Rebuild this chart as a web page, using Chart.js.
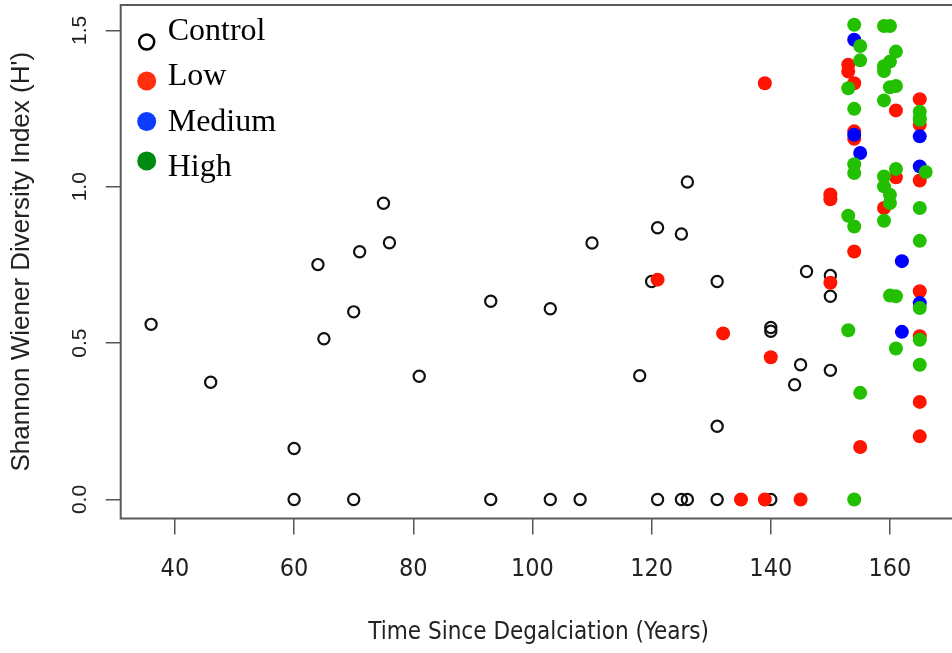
<!DOCTYPE html>
<html><head><meta charset="utf-8">
<script src="https://cdn.jsdelivr.net/npm/chart.js@4.4.0/dist/chart.umd.min.js"></script>
<style>html,body{margin:0;padding:0;background:#fff;overflow:hidden;width:952px;height:653px}canvas{display:block}</style>
</head><body>
<canvas id="c" width="958" height="653"></canvas>
<script>
// ---- data ----
const seriesNames = ['Control', 'Low', 'Medium', 'High'];
const xTicks = [40, 60, 80, 100, 120, 140, 160];
const yTicks = [0, 0.5, 1.0, 1.5];
const xTitle = 'Time Since Degalciation (Years)';
const yTitle = "Shannon Wiener Diversity Index (H')";

const controlX = [36, 46, 60, 60, 64, 65, 70, 70, 71, 75, 76, 81, 93, 93, 103, 103, 108, 110, 118, 120, 121, 121, 125, 125, 126, 126, 131, 131, 131, 140, 140, 140, 144, 145, 146, 150, 150, 150];
const controlY = [0.56, 0.375, 0.163, 0, 0.751, 0.514, 0.6, 0, 0.792, 0.947, 0.821, 0.394, 0.634, 0, 0.61, 0, 0, 0.82, 0.396, 0.697, 0.869, 0, 0.849, 0, 1.015, 0, 0.697, 0.234, 0, 0.55, 0.538, 0, 0.367, 0.431, 0.729, 0.716, 0.65, 0.413];

const lowX = [121, 132, 135, 139, 139, 140, 145, 150, 150, 150, 153, 153, 154, 154, 154, 154, 155, 159, 161, 161, 165, 165, 165, 165, 165, 165, 165];
const lowY = [0.703, 0.531, 0, 1.331, 0, 0.455, 0, 0.975, 0.96, 0.693, 1.39, 1.368, 1.331, 1.177, 1.153, 0.793, 0.168, 0.932, 1.244, 1.03, 1.28, 1.198, 1.02, 0.666, 0.522, 0.312, 0.202];

const mediumX = [154, 154, 155, 162, 162, 165, 165, 165];
const mediumY = [1.47, 1.166, 1.108, 0.762, 0.536, 1.161, 1.065, 0.628];

const highX = [153, 153, 153, 154, 154, 154, 154, 154, 154, 155, 155, 155, 159, 160, 161, 160, 159, 159, 160, 161, 159, 159, 159, 160, 160, 159, 161, 160, 161, 161, 165, 165, 165, 165, 165, 165, 165, 165, 166];
const highY = [1.315, 0.907, 0.541, 1.518, 1.249, 1.072, 1.044, 0.873, 0, 1.45, 1.404, 0.341, 1.514, 1.514, 1.432, 1.4, 1.385, 1.37, 1.318, 1.322, 1.276, 1.033, 1.001, 0.974, 0.948, 0.891, 1.057, 0.652, 0.65, 0.483, 1.24, 1.22, 1.214, 0.932, 0.827, 0.612, 0.511, 0.431, 1.047];

// ---- build ----
const pts = (xs, ys) => xs.map((x, i) => ({x: x, y: ys[i]}));
const narrow = "'Liberation Sans Narrow', 'DejaVu Sans Condensed', 'Liberation Sans', Arial, sans-serif";
const sans = "'Liberation Sans', Arial, sans-serif";

const legendColors = {Control: null, Low: '#ff2e0c', Medium: '#0d3cff', High: '#008a10'};

const boxPlugin = {
  id: 'box',
  afterDraw(chart) {
    const a = chart.chartArea, ctx = chart.ctx;
    ctx.save();
    ctx.strokeStyle = '#5a5a5a';
    ctx.lineWidth = 2;
    ctx.strokeRect(a.left, a.top, a.right - a.left, a.bottom - a.top);
    ctx.restore();
  }
};

const legendPlugin = {
  id: 'innerLegend',
  afterDraw(chart) {
    const a = chart.chartArea, ctx = chart.ctx;
    ctx.save();
    ctx.font = "32px 'Liberation Serif', 'DejaVu Serif', serif";
    ctx.textBaseline = 'alphabetic';
    ctx.textAlign = 'left';
    const mx = a.left + 26, tx = a.left + 47;
    const baselines = [40, 85, 131, 176];
    const markerY = [42, 81, 121.5, 161];
    seriesNames.forEach((name, i) => {
      ctx.beginPath();
      if (name === 'Control') {
        ctx.arc(mx, markerY[i], 7.5, 0, Math.PI * 2);
        ctx.strokeStyle = '#000';
        ctx.lineWidth = 2.5;
        ctx.stroke();
      } else {
        ctx.arc(mx, markerY[i], 9.5, 0, Math.PI * 2);
        ctx.fillStyle = legendColors[name];
        ctx.fill();
      }
      ctx.fillStyle = '#000';
      ctx.fillText(name, tx, baselines[i]);
    });
    ctx.restore();
  }
};

new Chart(document.getElementById('c'), {
  type: 'scatter',
  data: {
    datasets: [
      {label: 'Control', data: pts(controlX, controlY), order: 4, pointRadius: 5.6, pointBorderWidth: 2.2, pointBackgroundColor: 'rgba(255,255,255,0)', pointBorderColor: '#111'},
      {label: 'Low', data: pts(lowX, lowY), order: 3, pointRadius: 7, pointBorderWidth: 0, pointBackgroundColor: '#ff1400', pointBorderColor: '#ff1400'},
      {label: 'Medium', data: pts(mediumX, mediumY), order: 2, pointRadius: 7, pointBorderWidth: 0, pointBackgroundColor: '#0000ff', pointBorderColor: '#0000ff'},
      {label: 'High', data: pts(highX, highY), order: 1, pointRadius: 7, pointBorderWidth: 0, pointBackgroundColor: '#22c000', pointBorderColor: '#22c000'}
    ]
  },
  options: {
    responsive: false,
    animation: false,
    events: [],
    layout: {autoPadding: false, padding: {left: 0, right: 1.3, top: 5, bottom: 0}},
    plugins: {legend: {display: false}, tooltip: {enabled: false}},
    scales: {
      x: {
        type: 'linear', min: 30.9, max: 171.2,
        afterBuildTicks: s => { s.ticks = xTicks.map(v => ({value: v})); },
        afterFit: s => { s.height = 134.5; s.paddingLeft = 0; s.paddingRight = 0; s.paddingTop = 0; s.paddingBottom = 0; },
        border: {display: false},
        grid: {display: true, drawOnChartArea: false, drawTicks: true, tickLength: 16, color: '#555', lineWidth: 1.5},
        ticks: {font: {family: narrow, size: 25}, color: '#222', padding: 20, maxRotation: 0, minRotation: 0, callback: v => String(v)},
        title: {display: true, text: xTitle, font: {family: narrow, size: 24}, color: '#222', padding: {top: 0, bottom: 6}}
      },
      y: {
        type: 'linear', min: -0.0607, max: 1.581,
        afterBuildTicks: s => { s.ticks = yTicks.map(v => ({value: v})); },
        afterFit: s => { s.width = 120.7; s.paddingLeft = 0; s.paddingRight = 0; s.paddingTop = 0; s.paddingBottom = 0; },
        border: {display: false},
        grid: {display: true, drawOnChartArea: false, drawTicks: true, tickLength: 15, color: '#555', lineWidth: 1.5},
        ticks: {font: {family: sans, size: 21}, color: '#222', padding: 11, minRotation: 90, maxRotation: 90, crossAlign: 'center', callback: v => Number(v).toFixed(1)},
        title: {display: true, text: yTitle, font: {family: sans, size: 26}, color: '#222', padding: {top: 6, bottom: 0}}
      }
    }
  },
  plugins: [boxPlugin, legendPlugin]
});
</script>
</body></html>
